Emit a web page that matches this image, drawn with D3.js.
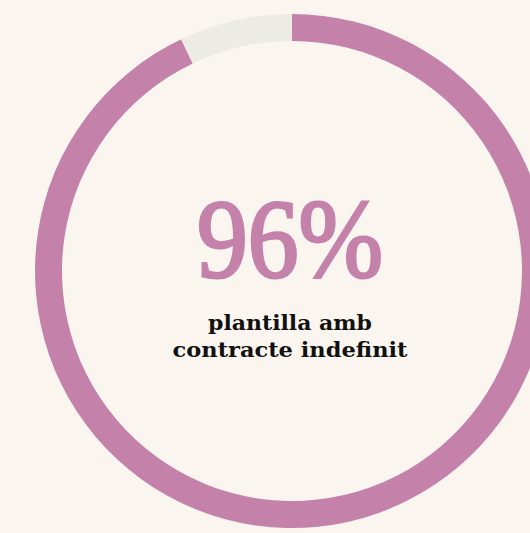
<!DOCTYPE html>
<html><head><meta charset="utf-8">
<script src="https://cdn.jsdelivr.net/npm/d3@7"></script>
<style>html,body{margin:0;padding:0;background:#faf6ef;overflow:hidden}</style>
</head><body>
<svg id="c" width="530" height="533"></svg>
<script>
const labelValue = "96%";
const labelLines = ["plantilla amb", "contracte indefinit"];
const segments = ["filled", "rest"];
const segmentValues = [92.9, 7.1];
const segmentColors = ["#c482ab", "#ecebe4"];

const svg = d3.select("#c");
svg.append("rect").attr("width",530).attr("height",533).attr("fill","#faf6ef");
const cx = 292, cy = 271, outerR = 257, innerR = 230;
const g = svg.append("g").attr("transform",`translate(${cx},${cy})`);
const pie = d3.pie().sort(null).value(d=>d.v);
const arc = d3.arc().innerRadius(innerR).outerRadius(outerR);
const data = segments.map((s,i)=>({k:s,v:segmentValues[i],c:segmentColors[i]}));
g.selectAll("path").data(pie(data)).join("path")
  .attr("d",arc).attr("fill",d=>d.data.c);

g.append("text").text(labelValue)
  .attr("x",-2).attr("y",6)
  .attr("text-anchor","middle")
  .attr("font-family","Liberation Serif")
  .attr("font-size",112)
  .attr("textLength",186).attr("lengthAdjust","spacingAndGlyphs")
  .attr("fill","#c482ab").attr("stroke","#c482ab").attr("stroke-width",3);

const widths = [164, 235];
g.selectAll("text.sub").data(labelLines).join("text").attr("class","sub")
  .text(d=>d)
  .attr("x",-2).attr("y",(d,i)=>59+i*27)
  .attr("text-anchor","middle")
  .attr("font-family","DejaVu Serif")
  .attr("font-weight","bold")
  .attr("font-size",20)
  .attr("textLength",(d,i)=>widths[i]).attr("lengthAdjust","spacingAndGlyphs")
  .attr("fill","#111");
</script>
</body></html>
